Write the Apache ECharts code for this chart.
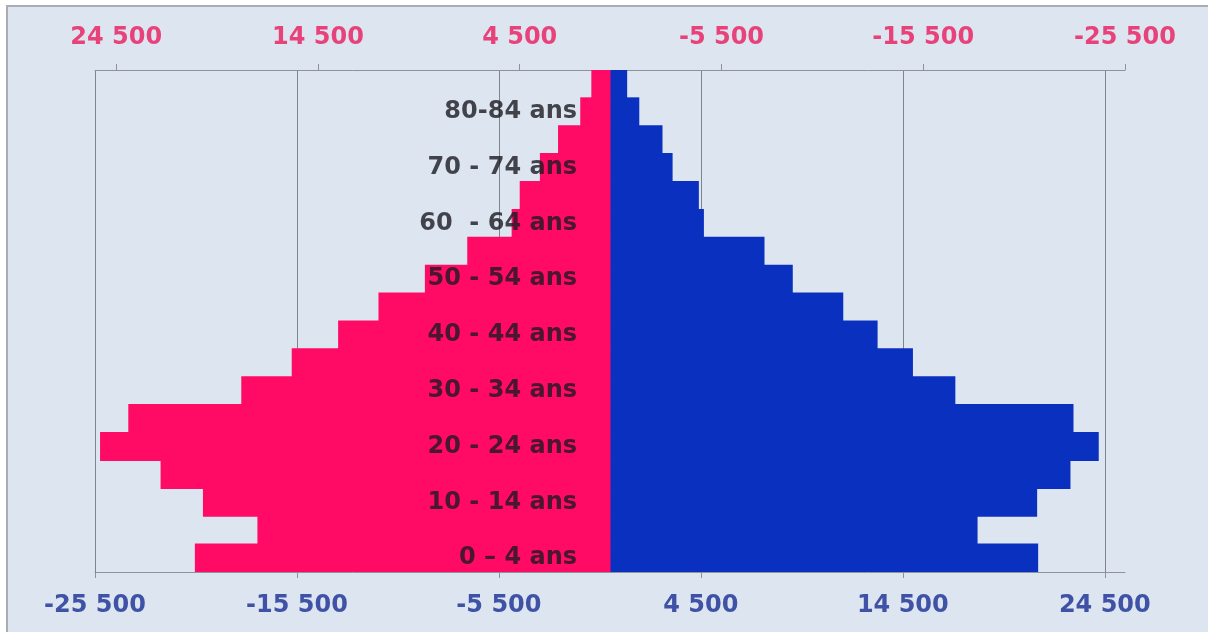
<!DOCTYPE html>
<html>
<head>
<meta charset="utf-8">
<script src="https://cdn.jsdelivr.net/npm/echarts@6/dist/echarts.min.js"></script>
<style>
  html, body { margin: 0; padding: 0; background: #ffffff; overflow: hidden; width: 1208px; height: 632px; }
  #frame {
    position: absolute; left: 6px; top: 5px; right: 0; bottom: 0;
    background: #dde6f0; border-left: 2px solid #a9acb0; border-top: 2px solid #a9acb0;
  }
  #chart { position: absolute; left: 0; top: 0; width: 1208px; height: 632px; }
</style>
</head>
<body>
<div id="frame"></div>
<div id="chart"></div>
<script>
// Age groups, youngest first (bottom of the pyramid)
const ageGroups = [
  '0 – 4 ans', '5 - 9 ans', '10 - 14 ans', '15 - 19 ans', '20 - 24 ans',
  '25 - 29 ans', '30 - 34 ans', '35 - 39 ans', '40 - 44 ans', '45 - 49 ans',
  '50 - 54 ans', '55 - 59 ans', '60  - 64 ans', '65 - 69 ans', '70 - 74 ans',
  '75 - 79 ans', '80-84 ans', '85 ans et +'
];

// Population by age group (left side, pink)
const femmes = [
  20600, 17500, 20200, 22300, 25300, 23900, 18300, 15800, 13500,
  11500, 9200, 7100, 4900, 4500, 3500, 2600, 1500, 950
];

// Population by age group (right side, blue)
const hommes = [
  21200, 18200, 21150, 22800, 24200, 22950, 17100, 15000, 13250,
  11550, 9050, 7650, 4650, 4400, 3100, 2600, 1450, 850
];

// Tick values shared by both horizontal axes
const tickValues = [-25500, -15500, -5500, 4500, 14500, 24500];

function fmt(v) {
  const s = String(Math.abs(v)).replace(/\B(?=(\d{3})+(?!\d))/g, ' ');
  return (v < 0 ? '-' : '') + s;
}

const labelFont = { fontFamily: 'DejaVu Sans', fontWeight: 'bold', fontSize: 24 };
const pink = '#ff0a64';
const blue = '#0a30c0';

const chart = echarts.init(document.getElementById('chart'), null, { renderer: 'canvas' });
chart.setOption({
  backgroundColor: 'transparent',
  animation: false,
  grid: { left: 95, right: 83, top: 70, bottom: 60, containLabel: false, outerBoundsMode: 'none' },
  xAxis: [
    {
      // bottom axis, right-hand series
      type: 'value', position: 'bottom',
      min: -25500, max: 25500, interval: 10000,
      axisLine: { show: true, lineStyle: { color: '#8e9399', width: 1 } },
      axisTick: { show: true, length: 6, lineStyle: { color: '#8e9399' }, customValues: tickValues },
      axisLabel: Object.assign({ color: '#3f52a6', margin: 22, formatter: fmt, customValues: tickValues }, labelFont),
      splitLine: { show: true, lineStyle: { color: '#7f858c', width: 1 } }
    },
    {
      // top axis, reversed, left-hand series
      type: 'value', position: 'top', inverse: true,
      min: -25500, max: 25550, interval: 10000,
      axisLine: { show: true, onZero: false, lineStyle: { color: '#8e9399', width: 1 } },
      axisTick: { show: true, length: 6, lineStyle: { color: '#8e9399' }, customValues: tickValues },
      axisLabel: Object.assign({ color: '#e8427a', margin: 20, formatter: fmt, customValues: tickValues }, labelFont),
      splitLine: { show: false }
    }
  ],
  yAxis: {
    type: 'category',
    data: ageGroups,
    z: 10,
    // labels sit just left of the zero line
    offset: -515,
    axisLine: { show: false, onZero: false },
    axisTick: { show: false },
    splitLine: { show: false },
    axisLabel: Object.assign({
      interval: 1, margin: 33, color: 'rgba(28,26,32,0.8)', align: 'right'
    }, labelFont)
  },
  series: [
    {
      name: 'Hommes', type: 'bar', xAxisIndex: 0,
      data: hommes,
      barCategoryGap: '-4%', barGap: '-100%',
      itemStyle: { color: blue }
    },
    {
      name: 'Femmes', type: 'bar', xAxisIndex: 1,
      data: femmes,
      barCategoryGap: '-4%', barGap: '-100%',
      itemStyle: { color: pink }
    }
  ]
});
</script>
</body>
</html>
